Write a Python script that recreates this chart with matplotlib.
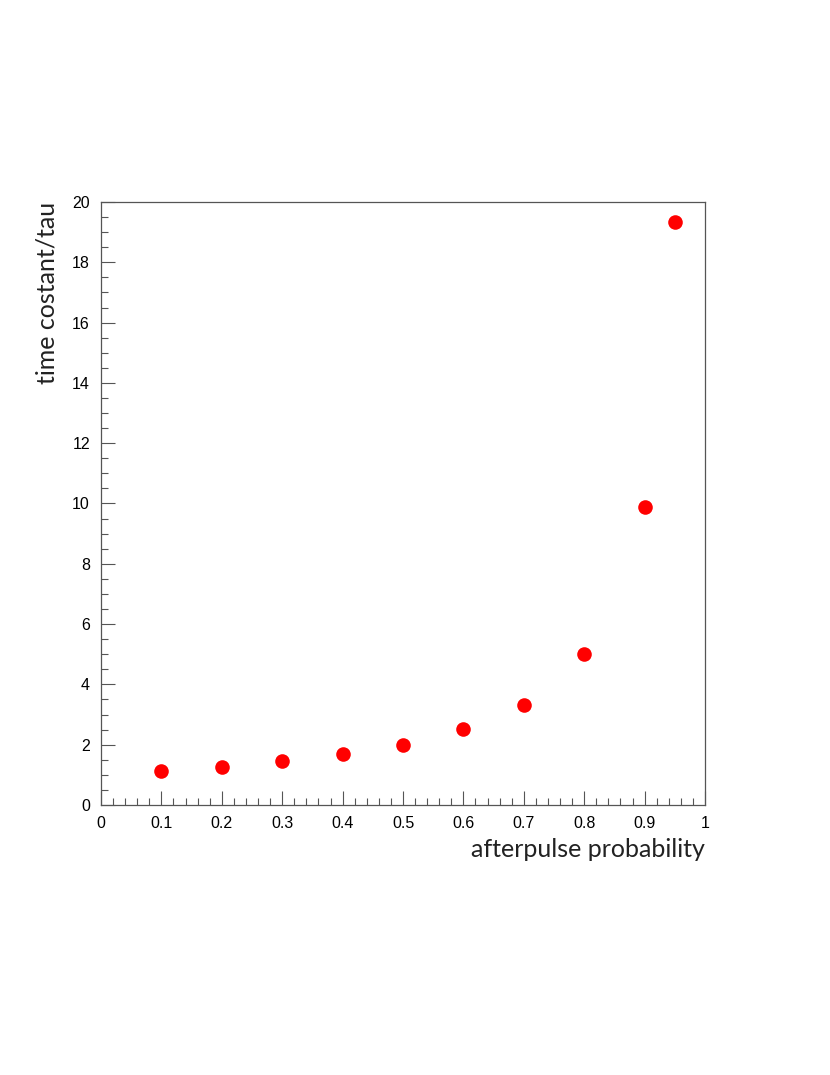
import matplotlib
matplotlib.use("Agg")
import matplotlib.pyplot as plt
from matplotlib.ticker import MultipleLocator

# values
prob = [0.1, 0.2, 0.3, 0.4, 0.5, 0.6, 0.7, 0.8, 0.9, 0.95]
tau = [1.12, 1.26, 1.45, 1.69, 1.99, 2.51, 3.32, 5.01, 9.87, 19.32]

fig = plt.figure(figsize=(8.3, 10.75), dpi=100)
ax = fig.add_axes([0.1217, 0.2512, 0.7277, 0.5609])

ax.plot(prob, tau, 'o', color='red', markersize=10.5, markeredgewidth=0)

ax.set_xlim(0, 1)
ax.set_ylim(0, 20)
ax.xaxis.set_major_locator(MultipleLocator(0.1))
ax.xaxis.set_minor_locator(MultipleLocator(0.02))
ax.yaxis.set_major_locator(MultipleLocator(2))
ax.yaxis.set_minor_locator(MultipleLocator(0.5))
ax.set_xticks([0, 0.1, 0.2, 0.3, 0.4, 0.5, 0.6, 0.7, 0.8, 0.9, 1])
ax.set_xticklabels(['0', '0.1', '0.2', '0.3', '0.4', '0.5', '0.6', '0.7', '0.8', '0.9', '1'])

ax.tick_params(which='both', direction='in', top=False, right=False,
               labelsize=11.5, color='#555555')
ax.tick_params(which='major', length=10, width=0.8, pad=8)
ax.tick_params(which='minor', length=5, width=0.8)
for lbl in ax.get_xticklabels() + ax.get_yticklabels():
    lbl.set_family('Liberation Sans')

for s in ax.spines.values():
    s.set_color('#555555')
    s.set_linewidth(0.9)

ax.set_xlabel('afterpulse probability', family='Lato', color='#222222',
              fontsize=18, loc='right', labelpad=5)
ax.set_ylabel('time costant/tau', family='Lato', color='#222222',
              fontsize=18, loc='top', labelpad=10)

fig.savefig('out.png', dpi=100)
